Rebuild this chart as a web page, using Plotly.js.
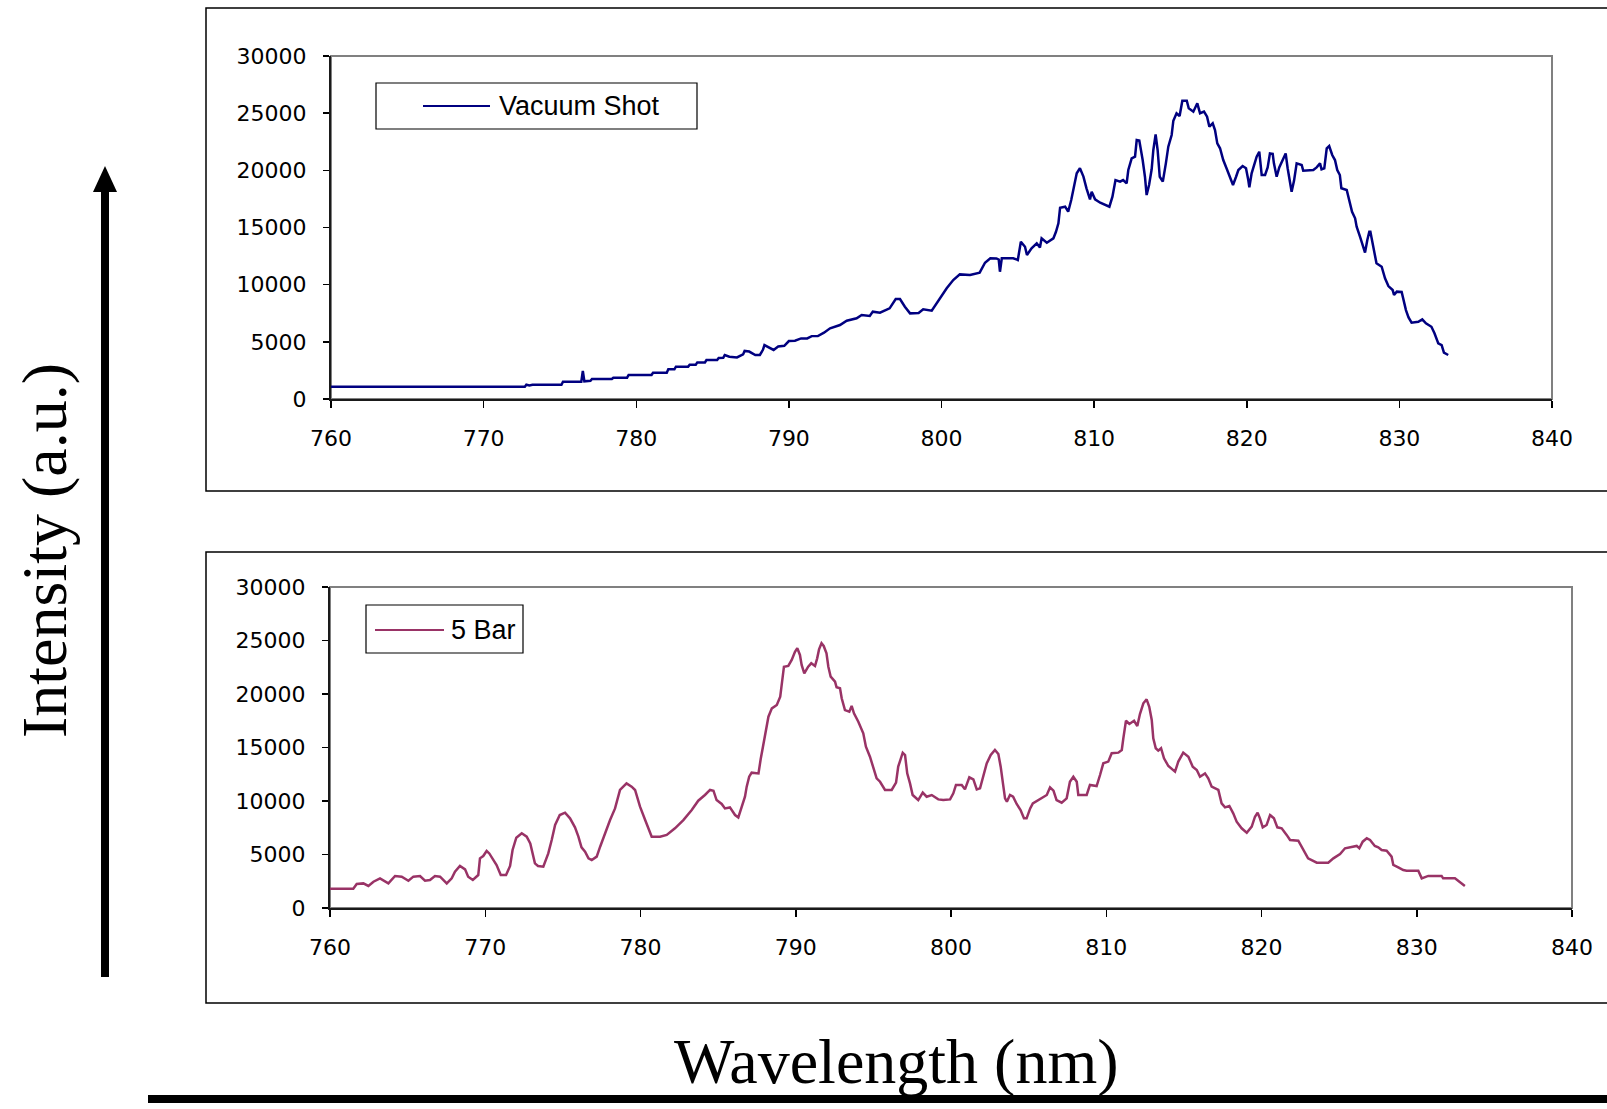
<!DOCTYPE html>
<html>
<head>
<meta charset="utf-8">
<script src="https://cdn.plot.ly/plotly-3.0.1.min.js"></script>
<style>
  html, body { margin: 0; padding: 0; background: #ffffff; }
  #chart { width: 1607px; height: 1109px; }
</style>
</head>
<body>
<div id="chart"></div>
<script>
// ---------------- DATA ----------------
const seriesNames = ["Vacuum Shot", "5 Bar"];
const xTickVals = [760, 770, 780, 790, 800, 810, 820, 830, 840];
const xTickText = ["760", "770", "780", "790", "800", "810", "820", "830", "840"];
const yTickVals = [0, 5000, 10000, 15000, 20000, 25000, 30000];
const yTickText = ["0", "5000", "10000", "15000", "20000", "25000", "30000"];
const yTitle = "Intensity (a.u.)";
const xTitle = "Wavelength (nm)";

const vacuumX = [760, 772.7, 772.8, 773.0, 773.2, 775.1, 775.2, 776.4, 776.5, 776.6, 777.0, 777.1, 778.4, 778.5, 779.4, 779.5,
  781.0, 781.1, 782.0, 782.1, 782.5, 782.6, 783.4, 783.5, 783.9, 784.0, 784.5, 784.6, 785.3, 785.4, 785.7, 785.8, 786.1,
  786.6, 787.0, 787.1, 787.4, 787.8, 788.1, 788.3, 788.4, 788.7, 789.0, 789.3, 789.7, 790.0, 790.4, 790.8, 791.2, 791.5,
  791.9, 792.3, 792.7, 793.35, 793.79, 794.44, 794.77, 795.3, 795.5, 795.97, 796.4, 796.6, 797.0, 797.28, 797.6, 797.94,
  798.5, 798.8, 799.36, 799.68, 800.0, 800.34, 800.77, 801.2, 801.87, 802.5, 802.85, 803.2, 803.6, 803.75, 803.83, 803.95,
  804.7, 805.0, 805.2, 805.47, 805.6, 805.9, 806.24, 806.45, 806.56, 806.9, 807.33, 807.5, 807.66, 807.77, 808.1, 808.3,
  808.5, 808.64, 808.86, 809.07, 809.3, 809.5, 809.73, 809.84, 810.06, 810.4, 811.0, 811.2, 811.4, 811.7, 811.9, 812.13,
  812.24, 812.46, 812.68, 812.79, 812.96, 813.18, 813.33, 813.44, 813.6, 813.77, 813.88, 814.03, 814.16, 814.3, 814.5,
  814.7, 814.86, 815.08, 815.19, 815.4, 815.6, 815.78, 816.07, 816.2, 816.5, 816.76, 816.94, 817.2, 817.4, 817.55, 817.77,
  817.92, 818.07, 818.25, 818.46, 818.7, 818.9, 819.1, 819.3, 819.45, 819.73, 819.95, 820.1, 820.17, 820.32, 820.54,
  820.65, 820.82, 820.98, 821.2, 821.37, 821.52, 821.7, 821.78, 821.96, 822.13, 822.4, 822.55, 822.68, 822.83, 822.94,
  823.1, 823.27, 823.6, 823.7, 824.36, 824.58, 824.8, 824.9, 825.08, 825.24, 825.4, 825.6, 825.78, 825.93, 826.1, 826.2,
  826.55, 826.7, 826.9, 827.1, 827.2, 827.42, 827.64, 827.75, 827.9, 828.03, 828.1, 828.25, 828.4, 828.5, 828.84, 829.06,
  829.28, 829.56, 829.65, 829.83, 830.15, 830.26, 830.43, 830.6, 830.8, 831.24, 831.5, 831.74, 832.1, 832.3, 832.55,
  832.77, 832.92, 833.2];
const vacuumY = [1080, 1080, 1250, 1180, 1250, 1250, 1515, 1515, 2450, 1550, 1600, 1750, 1750, 1865, 1865, 2100,
  2100, 2300, 2300, 2600, 2600, 2830, 2830, 3000, 3000, 3200, 3200, 3410, 3410, 3585, 3600, 3850, 3700,
  3640, 3900, 4200, 4150, 3850, 3850, 4300, 4720, 4500, 4290, 4600, 4650, 5070, 5100, 5300, 5300, 5500,
  5510, 5800, 6180, 6470, 6850, 7060, 7350, 7260, 7640, 7550, 7780, 7930, 8750, 8740, 8070, 7490,
  7520, 7840, 7720, 8370, 9100, 9680, 10400, 10900, 10850, 11050, 11920, 12300, 12290, 12200, 11130, 12300,
  12300, 12160, 13760, 13320, 12600, 13180, 13620, 13250, 14050, 13670, 14050, 14630, 15360, 16730, 16820, 16380,
  17400, 18280, 19740, 20180, 19450, 18430, 17460, 18130, 17460, 17170, 16820, 17700, 19150, 19010, 19150, 18860,
  20030, 21050, 21190, 22650, 22600, 20900, 19440, 17840, 18720, 20090, 21780, 23150, 21780, 19440, 19010,
  20610, 22070, 23090, 24340, 24990, 24750, 26090, 26090, 25420, 25130, 25860, 24990, 25130, 24690, 23820, 24110,
  23530, 22360, 21930, 20900, 20090, 19440, 18720, 19440, 20030, 20380, 20180, 19150, 18510, 19740, 20610,
  21190, 21630, 19590, 19590, 20260, 21480, 21450, 20610, 19440, 20260, 21050, 21480, 20180, 19150, 18130,
  19100, 20610, 20470, 19970, 20030, 20260, 20610, 20090, 20180, 21930, 22130, 21340, 20900, 20030, 19590, 18430,
  18280, 17400, 16380, 15800, 15070, 14200, 13180, 12800, 13910, 14630, 14630, 13620, 12600, 11870, 11570, 10560,
  9880, 9530, 9100, 9390, 9360, 8660, 7780, 7140, 6680, 6760, 6970, 6620, 6320, 5750, 4870,
  4720, 4050, 3850];

const bar5X = [760, 761.5, 761.72, 762.15, 762.47, 762.8, 763.22, 763.76, 764.19, 764.62, 765.05, 765.37, 765.8, 766.12,
  766.44, 766.76, 767.09, 767.52, 767.84, 768.05, 768.37, 768.7, 768.9, 769.2, 769.55, 769.66, 769.87, 770.09, 770.26,
  770.48, 770.73, 771.0, 771.34, 771.6, 771.76, 772.0, 772.35, 772.67, 772.9, 773.2, 773.4, 773.74, 774.06, 774.28, 774.5,
  774.8, 775.14, 775.46, 775.78, 776.0, 776.2, 776.43, 776.65, 776.86, 777.18, 777.4, 777.7, 778.04, 778.36, 778.68, 779.1,
  779.43, 779.65, 779.97, 780.3, 780.72, 781.26, 781.69, 782.22, 782.76, 783.3, 783.72, 784.15, 784.48, 784.7, 784.9,
  785.23, 785.44, 785.76, 786.09, 786.3, 786.52, 786.73, 786.84, 787.0, 787.16, 787.6, 787.74, 787.9, 788.1, 788.24,
  788.46, 788.78, 789.0, 789.1, 789.24, 789.52, 789.74, 789.95, 790.1, 790.27, 790.38, 790.55, 790.8, 791.0, 791.24,
  791.38, 791.5, 791.66, 791.8, 791.98, 792.1, 792.25, 792.53, 792.63, 792.85, 792.96, 793.17, 793.45, 793.6, 793.75,
  794.03, 794.35, 794.52, 794.78, 794.99, 795.21, 795.43, 795.75, 796.18, 796.46, 796.6, 796.89, 797.04, 797.18, 797.36,
  797.53, 797.89, 798.18, 798.43, 798.76, 799.18, 799.5, 799.94, 800.15, 800.32, 800.69, 800.9, 801.18, 801.44, 801.66,
  801.87, 802.08, 802.3, 802.56, 802.83, 803.05, 803.2, 803.34, 803.48, 803.6, 803.8, 804.0, 804.23, 804.48, 804.7,
  804.87, 805.1, 805.27, 805.63, 805.95, 806.17, 806.38, 806.6, 806.8, 807.13, 807.45, 807.66, 807.88, 808.1, 808.2,
  808.74, 808.95, 809.38, 809.6, 809.81, 810.13, 810.35, 810.78, 811.0, 811.1, 811.27, 811.49, 811.79, 812.0, 812.17,
  812.39, 812.6, 812.77, 812.93, 813.03, 813.19, 813.35, 813.53, 813.72, 814.0, 814.43, 814.64, 814.96, 815.29, 815.57,
  815.83, 816.04, 816.36, 816.57, 816.79, 817.22, 817.43, 817.65, 817.93, 818.18, 818.4, 818.72, 819.05, 819.37, 819.58,
  819.75, 819.9, 820.08, 820.33, 820.55, 820.8, 821.02, 821.3, 821.62, 821.84, 822.37, 822.7, 823.0, 823.56, 824.3,
  824.63, 825.06, 825.38, 825.92, 826.13, 826.3, 826.52, 826.78, 826.99, 827.3, 827.52, 827.74, 828.06, 828.38, 828.49,
  828.81, 829.13, 829.35, 830.1, 830.32, 830.74, 831.6, 831.7, 832.46, 832.68, 832.9, 833.1];
const bar5Y = [1800, 1800, 2240, 2300, 2060, 2460, 2770, 2300, 2990, 2930, 2550, 2930, 2990, 2550,
  2620, 2990, 2930, 2300, 2770, 3390, 3925, 3610, 2930, 2620, 3080, 4640, 4860, 5330, 5100,
  4640, 4020, 3080, 3080, 3925, 5420, 6570, 6980, 6670, 6040, 4170, 3925, 3860, 5100, 6350, 7760,
  8690, 8910, 8380, 7540, 6670, 5670, 5270, 4640, 4480, 4800, 5730, 6920, 8220, 9310, 11030, 11650,
  11340, 11030, 9470, 8220, 6670, 6670, 6830, 7450, 8220, 9160, 10030, 10560, 11030, 10960, 10090,
  9720, 9310, 9400, 8690, 8470, 9470, 10400, 11340, 12270, 12650, 12580, 13900, 15080, 16790, 17880,
  18660, 18970, 19750, 20840, 22550, 22620, 23180, 23950, 24270, 23650, 22710, 21930, 22550, 22870, 22620,
  23330, 24170, 24740, 24490, 23800, 22550, 21620, 21150, 20630, 20530, 19600, 18500, 18350, 18880, 18200,
  17410, 16330, 15080, 14140, 13210, 12120, 11800, 11030, 11030, 11710, 13210, 14510, 14290, 12590, 11650,
  10560, 10090, 10780, 10400, 10560, 10150, 10090, 10150, 10720, 11500, 11500, 11090, 12210, 12020, 11090,
  11180, 12430, 13520, 14300, 14770, 14390, 13210, 11710, 10250, 9940, 10560, 10400, 9720, 9160, 8380,
  8380, 9310, 9780, 10090, 10400, 10560, 11280, 10970, 10090, 9840, 10250, 11800, 12270, 11800, 10560,
  10560, 11500, 11400, 12430, 13520, 13680, 14460, 14520, 14770, 15860, 17500, 17200, 17500, 17010, 18130,
  19130, 19500, 18810, 17570, 15860, 14930, 14710, 14930, 13990, 13270, 12740, 13680, 14520, 14140, 13210,
  12900, 12270, 12580, 12120, 11340, 11030, 9780, 9400, 9530, 8850, 8070, 7450, 7040, 7610, 8530,
  8910, 8380, 7540, 7760, 8690, 8380, 7540, 7450, 6830, 6360, 6290, 5420, 4640, 4240, 4240,
  4640, 5050, 5580, 5730, 5800, 5580, 6200, 6510, 6360, 5800, 5670, 5420, 5350, 4800, 4020,
  3800, 3550, 3490, 3490, 2770, 3000, 3000, 2770, 2770, 2550, 2300, 2060];

// ---------------- LAYOUT HELPERS ----------------
const W = 1607, H = 1109;
const PX = p => p / W;
const PY = p => 1 - p / H;
const vacColor = "#000080";
const barColor = "#993366";

const tickFont = { family: "DejaVu Sans, Arial, sans-serif", size: 22, color: "#000000" };
const serif = "Liberation Serif, Times New Roman, serif";
const sans = "Liberation Sans, Arial, sans-serif";

function xAxis(domain, anchor) {
  return {
    domain: domain, anchor: anchor, range: [760, 840],
    tickmode: "array", tickvals: xTickVals, ticktext: xTickText,
    ticks: "outside", ticklen: 7, tickwidth: 1.5, tickcolor: "#000000",
    showline: true, linecolor: "#1a1a1a", linewidth: 2,
    showgrid: false, zeroline: false, tickfont: tickFont, ticklabelstandoff: 12,
    fixedrange: true
  };
}
function yAxis(domain, anchor) {
  return {
    domain: domain, anchor: anchor, range: [0, 30000],
    tickmode: "array", tickvals: yTickVals, ticktext: yTickText,
    ticks: "outside", ticklen: 6, tickwidth: 1.5, tickcolor: "#000000",
    showline: true, linecolor: "#1a1a1a", linewidth: 2,
    showgrid: false, zeroline: false, tickfont: tickFont, ticklabelstandoff: 12,
    fixedrange: true
  };
}

const traces = [
  { x: vacuumX, y: vacuumY, xaxis: "x", yaxis: "y", type: "scatter", mode: "lines",
    name: seriesNames[0], line: { color: vacColor, width: 2.5 }, showlegend: false },
  { x: bar5X, y: bar5Y, xaxis: "x2", yaxis: "y2", type: "scatter", mode: "lines",
    name: seriesNames[1], line: { color: barColor, width: 2.5 }, showlegend: false }
];

const shapes = [
  // chart area boxes
  { type: "rect", xref: "paper", yref: "paper", x0: PX(206), x1: PX(1615), y0: PY(8), y1: PY(491),
    line: { color: "#000000", width: 1.5 }, layer: "below" },
  { type: "rect", xref: "paper", yref: "paper", x0: PX(206), x1: PX(1615), y0: PY(552), y1: PY(1003),
    line: { color: "#000000", width: 1.5 }, layer: "below" },
  // plot area borders (grey)
  { type: "rect", xref: "x domain", yref: "y domain", x0: 0, x1: 1, y0: 0, y1: 1,
    line: { color: "#808080", width: 2 }, layer: "below" },
  { type: "rect", xref: "x2 domain", yref: "y2 domain", x0: 0, x1: 1, y0: 0, y1: 1,
    line: { color: "#808080", width: 2 }, layer: "below" },
  // legend boxes
  { type: "rect", xref: "paper", yref: "paper", x0: PX(376), x1: PX(697), y0: PY(83), y1: PY(129),
    line: { color: "#000000", width: 1.2 }, fillcolor: "#ffffff" },
  { type: "line", xref: "paper", yref: "paper", x0: PX(423), x1: PX(490), y0: PY(106), y1: PY(106),
    line: { color: vacColor, width: 2 } },
  { type: "rect", xref: "paper", yref: "paper", x0: PX(366), x1: PX(523), y0: PY(605), y1: PY(653),
    line: { color: "#000000", width: 1.2 }, fillcolor: "#ffffff" },
  { type: "line", xref: "paper", yref: "paper", x0: PX(375), x1: PX(444), y0: PY(630), y1: PY(630),
    line: { color: barColor, width: 2 } },
  // vertical arrow
  { type: "rect", xref: "paper", yref: "paper", x0: PX(101), x1: PX(109), y0: PY(188), y1: PY(977),
    line: { width: 0 }, fillcolor: "#000000" },
  { type: "path", xref: "paper", yref: "paper",
    path: "M " + PX(93) + "," + PY(192) + " L " + PX(117) + "," + PY(192) + " L " + PX(105) + "," + PY(166) + " Z",
    line: { width: 0 }, fillcolor: "#000000" },
  // bottom thick line
  { type: "line", xref: "paper", yref: "paper", x0: PX(148), x1: PX(1607), y0: PY(1099), y1: PY(1099),
    line: { color: "#000000", width: 8 } }
];

const annotations = [
  { text: yTitle, xref: "paper", yref: "paper", x: PX(44), y: PY(551), xanchor: "center", yanchor: "middle",
    textangle: -90, showarrow: false, font: { family: serif, size: 64, color: "#000000" } },
  { text: xTitle, xref: "paper", yref: "paper", x: PX(896), y: PY(1061), xanchor: "center", yanchor: "middle",
    showarrow: false, font: { family: serif, size: 64, color: "#000000" } },
  { text: seriesNames[0], xref: "paper", yref: "paper", x: PX(497), y: PY(106), xanchor: "left", yanchor: "middle",
    showarrow: false, font: { family: sans, size: 27, color: "#000000" } },
  { text: seriesNames[1], xref: "paper", yref: "paper", x: PX(449), y: PY(630), xanchor: "left", yanchor: "middle",
    showarrow: false, font: { family: sans, size: 27, color: "#000000" } }
];

const layout = {
  width: W, height: H,
  margin: { l: 0, r: 0, t: 0, b: 0, pad: 0 },
  paper_bgcolor: "#ffffff", plot_bgcolor: "rgba(0,0,0,0)",
  showlegend: false,
  xaxis: xAxis([PX(331), PX(1552)], "y"),
  yaxis: yAxis([PY(399), PY(56)], "x"),
  xaxis2: xAxis([PX(330), PX(1572)], "y2"),
  yaxis2: yAxis([PY(908), PY(587)], "x2"),
  shapes: shapes,
  annotations: annotations
};

Plotly.newPlot("chart", traces, layout, { staticPlot: true, displayModeBar: false });
</script>
</body>
</html>
